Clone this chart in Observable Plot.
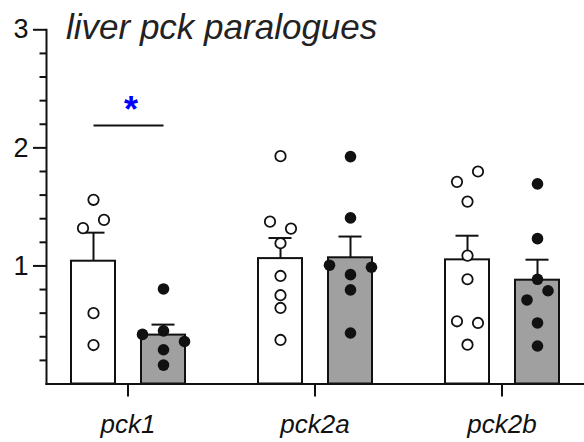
<!DOCTYPE html>
<html><head><meta charset="utf-8">
<script src="https://cdn.jsdelivr.net/npm/d3@7"></script>
<script src="https://cdn.jsdelivr.net/npm/@observablehq/plot@0.6"></script>
<style>
html,body{margin:0;padding:0;background:#fff;}
#wrap{position:relative;width:584px;height:442px;}
#title{position:absolute;z-index:2;left:66px;top:9px;font:italic 35px/35px "Liberation Sans",Arial,sans-serif;color:#222;white-space:nowrap;}
</style></head>
<body><div id="wrap"><div id="title">liver pck paralogues</div></div>
<script>
// ---- data ----
const groups = ["pck1", "pck2a", "pck2b"];
const conditions = ["control", "treated"];
const pck1Control  = [1.56, 1.32, 1.39, 0.60, 0.33];
const pck1Treated  = [0.805, 0.42, 0.45, 0.36, 0.29, 0.16];
const pck2aControl = [1.93, 1.375, 1.316, 1.192, 0.915, 0.752, 0.644, 0.373];
const pck2aTreated = [1.926, 1.407, 1.006, 0.926, 0.989, 0.797, 0.432];
const pck2bControl = [1.712, 1.80, 1.545, 1.087, 0.887, 0.531, 0.517, 0.333];
const pck2bTreated = [1.695, 1.231, 0.887, 0.712, 0.79, 0.517, 0.322];
const yTickValues = [1, 2, 3];
const yMinorTicks = [0.2, 0.4, 0.6, 0.8, 1.2, 1.4, 1.6, 1.8, 2.2, 2.4, 2.6, 2.8];
const significance = [{group: "pck1", from: "control", to: "treated", y: 2.19, label: "*"}];

// ---- build tables ----
const series = {
  pck1: {control: pck1Control, treated: pck1Treated},
  pck2a: {control: pck2aControl, treated: pck2aTreated},
  pck2b: {control: pck2bControl, treated: pck2bTreated}
};
const points = [];
for (const g of groups) for (const c of conditions)
  series[g][c].forEach(v => points.push({group: g, cond: c, value: v}));

const summary = d3.flatRollup(points,
  v => {
    const m = d3.mean(v, d => d.value);
    const sem = d3.deviation(v, d => d.value) / Math.sqrt(v.length);
    return {mean: m, top: m + sem};
  }, d => d.group, d => d.cond)
  .map(([group, cond, s]) => ({group, cond, ...s}));

// row-based scatter layout (points within a row height are spread side by side)
function swarm(threshold, spacing) {
  return function (data, facets, channels, scales) {
    const X = channels.x.value, Y = channels.y.value;
    const xs = scales.x, ys = scales.y;
    const Xp = new Float64Array(X.length);
    for (const I of facets) {
      const byCond = d3.group(Array.from(I), i => X[i]);
      for (const [cond, idx] of byCond) {
        const base = xs(cond);
        const sorted = idx.slice().sort((a, b) => Y[b] - Y[a]);
        const bins = [];
        for (const i of sorted) {
          const last = bins[bins.length - 1];
          if (last && Math.abs(ys(Y[i]) - ys(Y[last[0]])) < threshold) last.push(i);
          else bins.push([i]);
        }
        for (const bin of bins) {
          bin.sort((a, b) => a - b);
          bin.forEach((i, k) => { Xp[i] = base + (k - (bin.length - 1) / 2) * spacing; });
        }
      }
    }
    return {data, facets, channels: {x: {value: Xp}}};
  };
}

const font = '"Liberation Sans", Arial, sans-serif';
const chart = Plot.plot({
  width: 584,
  height: 442,
  marginTop: 29.3,
  marginBottom: 58.5,
  marginLeft: 45,
  marginRight: 0,
  style: {fontFamily: font, color: "#111", background: "white"},
  fx: {domain: groups, paddingInner: 0.131, paddingOuter: 0, axis: null, label: null},
  x: {domain: conditions, paddingInner: 0.377, paddingOuter: 0.345, axis: null, label: null},
  y: {domain: [0, 3], axis: null, label: null},
  color: {domain: conditions, range: ["white", "#a0a0a0"]},
  marks: [
    Plot.barY(summary, {fx: "group", x: "cond", y: "mean", fill: "cond", stroke: "#111", strokeWidth: 2}),
    Plot.ruleX(summary, {fx: "group", x: "cond", y1: "mean", y2: "top", stroke: "#111", strokeWidth: 2}),
    Plot.tickY(summary, {fx: "group", x: "cond", y: "top", stroke: "#111", strokeWidth: 2, insetLeft: 10.5, insetRight: 10.5}),
    Plot.dot(points.filter(d => d.cond === "control"), {fx: "group", x: "cond", y: "value", r: 5.2, fill: "white", stroke: "#111", strokeWidth: 1.8, initializer: swarm(11, 21)}),
    Plot.dot(points.filter(d => d.cond === "treated"), {fx: "group", x: "cond", y: "value", r: 5.8, fill: "#111", stroke: "none", initializer: swarm(11, 21)}),
    Plot.link(significance, {fx: "group", x1: "from", x2: "to", y1: "y", y2: "y", stroke: "#111", strokeWidth: 2}),
    Plot.text(significance, {fx: "group", y: "y", text: "label", lineAnchor: "bottom", fill: "#0000ff", fontSize: 36, fontWeight: "bold", dx: 3, dy: -3}),
    Plot.axisY(yMinorTicks, {tickSize: 6.5, strokeWidth: 2, tickFormat: () => "", label: null}),
    Plot.axisY(yTickValues, {tickSize: 13, strokeWidth: 2, tickFormat: () => "", label: null}),
    Plot.text(yTickValues, {fx: () => groups[0], y: d => d, text: d => String(d), frameAnchor: "left", textAnchor: "end", dx: -18, fontSize: 27, fill: "#111"}),
    Plot.axisFx({anchor: "bottom", tickSize: 13, tickPadding: 18, strokeWidth: 2, fontSize: 26, fontStyle: "italic", label: null}),
    Plot.frame({anchor: "left", facet: "super", strokeWidth: 2}),
    Plot.frame({anchor: "bottom", facet: "super", strokeWidth: 2})
  ]
});
document.getElementById("wrap").prepend(chart);
</script>
</body></html>
